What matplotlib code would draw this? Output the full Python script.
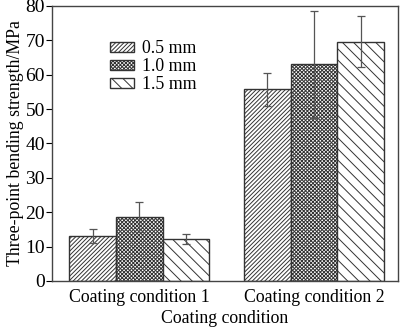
import numpy as np
import matplotlib
matplotlib.use('Agg')
import matplotlib.pyplot as plt

plt.rcParams['font.family'] = ['Liberation Serif', 'DejaVu Serif']
plt.rcParams['hatch.linewidth'] = 0.7

conditions = ['Coating condition 1', 'Coating condition 2']
thickness = ['0.5 mm', '1.0 mm', '1.5 mm']
strength = [[13.0, 55.7],
            [18.6, 63.0],
            [12.2, 69.6]]
strength_err = [[2.1, 4.7],
                [4.3, 15.6],
                [1.5, 7.5]]
hatches = ['////////', 'xxxxxxxxx', '\\\\\\']

fig = plt.figure(figsize=(4.0, 3.27), dpi=100)
ax = fig.add_axes([0.13, 0.141, 0.865, 0.841])

x = np.arange(len(conditions))
width = 0.267
for i, label in enumerate(thickness):
    ax.bar(x + (i - 1) * width, strength[i], width, yerr=strength_err[i],
           color='white', edgecolor='#333333', hatch=hatches[i], linewidth=1.0,
           label=label,
           error_kw=dict(ecolor='#555555', elinewidth=0.9, capsize=3, capthick=0.9))

ax.set_xlim(-0.5, 1.48)
ax.set_ylim(0, 80)
ax.set_yticks(np.arange(0, 81, 10))
ax.set_xticks(x)
ax.set_xticklabels(conditions, fontsize=12.8)
ax.tick_params(axis='x', length=0, pad=6)
ax.tick_params(axis='y', labelsize=14, length=4, width=0.8, direction='out', pad=1)
for s in ax.spines.values():
    s.set_color('#444444')
    s.set_linewidth(1.0)

ax.set_xlabel('Coating condition', fontsize=12.8, labelpad=3)
ax.set_ylabel('Three-point bending strength/MPa', fontsize=12.8, labelpad=1)

ax.legend(loc='upper left', bbox_to_anchor=(0.148, 0.9), frameon=False, fontsize=12.8,
          handlelength=1.35, handleheight=0.5, handletextpad=0.45, labelspacing=0.05,
          borderaxespad=0)

fig.savefig('out.png', dpi=100)
